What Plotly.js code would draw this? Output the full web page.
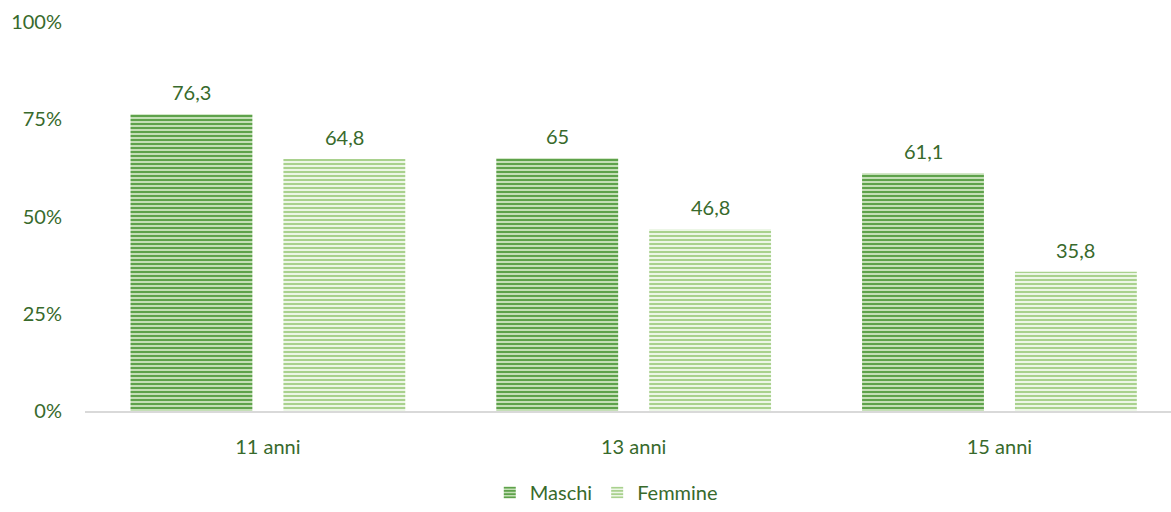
<!DOCTYPE html>
<html>
<head>
<meta charset="utf-8">
<script src="https://cdn.plot.ly/plotly-3.0.1.min.js"></script>
<style>html,body{margin:0;padding:0;background:#fff;}#chart{width:1171px;height:512px;}</style>
</head>
<body>
<div id="chart"></div>
<script>
const categories = ["11 anni", "13 anni", "15 anni"];
const maschi = [76.3, 65, 61.1];
const femmine = [64.8, 46.8, 35.8];
const seriesNames = ["Maschi", "Femmine"];
const yTickVals = [0, 25, 50, 75, 100];
const yTickText = ["0%", "25%", "50%", "75%", "100%"];

const fmt = v => String(v).replace('.', ',');
const textColor = '#386a2c';
const font = {family: 'Lato, "Open Sans", sans-serif', size: 20, color: textColor};

const traces = [
  {
    type: 'bar', name: seriesNames[0], x: categories, y: maschi,
    marker: {color: '#c5e0b4', line: {width: 0},
      pattern: {shape: '-', fgcolor: '#5ea24b', bgcolor: '#cfe6c2', size: 4, solidity: 0.55}},
    hoverinfo: 'skip'
  },
  {
    type: 'bar', name: seriesNames[1], x: categories, y: femmine,
    marker: {color: '#e2f0d9', line: {width: 0},
      pattern: {shape: '-', fgcolor: '#a9d18e', bgcolor: '#f4faf0', size: 4, solidity: 0.55}},
    hoverinfo: 'skip'
  }
];

const off = 0.209;
const annotations = [];
categories.forEach((c, i) => {
  annotations.push({x: i - off, y: maschi[i], xref: 'x', yref: 'y', text: fmt(maschi[i]),
    showarrow: false, yanchor: 'bottom', yshift: 8, font: font});
  annotations.push({x: i + off, y: femmine[i], xref: 'x', yref: 'y', text: fmt(femmine[i]),
    showarrow: false, yanchor: 'bottom', yshift: 8, font: font});
});

const layout = {
  width: 1171, height: 512,
  margin: {l: 85, r: 0, t: 22, b: 100},
  paper_bgcolor: '#ffffff', plot_bgcolor: '#ffffff',
  barmode: 'group', bargap: 0.164, bargroupgap: 0.203,
  font: font,
  showlegend: true,
  legend: {orientation: 'h', x: 0.48, xanchor: 'center', y: -0.21, yanchor: 'middle',
    font: font, itemwidth: 30, tracegroupgap: 0},
  xaxis: {
    type: 'category', range: [-0.5, 2.469], showgrid: false, zeroline: false,
    showline: true, linecolor: '#d9d9d9', linewidth: 2,
    ticks: 'outside', ticklen: 17, tickcolor: 'rgba(0,0,0,0)',
    tickfont: font, fixedrange: true
  },
  yaxis: {
    range: [0, 100], showgrid: false, zeroline: false, showline: false,
    tickvals: yTickVals, ticktext: yTickText, tickfont: font,
    ticks: 'outside', ticklen: 18, tickcolor: 'rgba(0,0,0,0)', fixedrange: true
  },
  annotations: annotations
};

Plotly.newPlot('chart', traces, layout, {displayModeBar: false, staticPlot: true});
</script>
</body>
</html>
